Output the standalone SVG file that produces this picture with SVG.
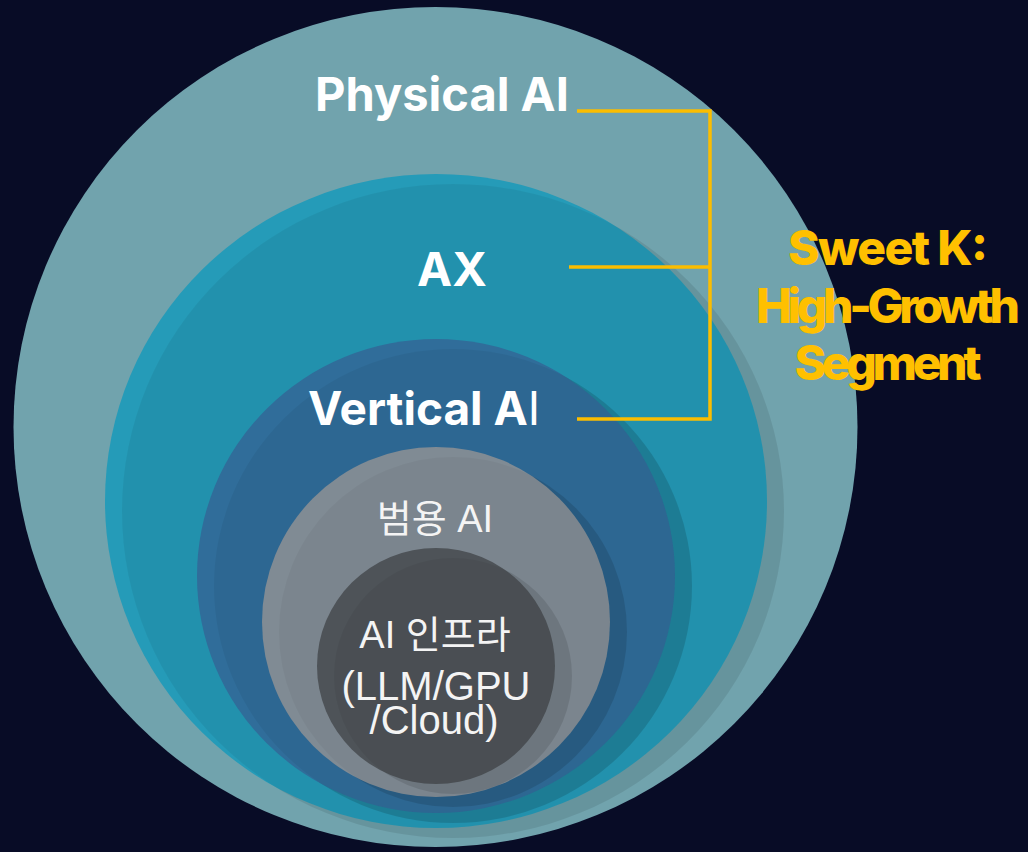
<svg xmlns="http://www.w3.org/2000/svg" width="1028" height="852" viewBox="0 0 1028 852">
  <style>
    .lbl-bold { font-family: Inter, "Noto Sans", "Liberation Sans", sans-serif; font-weight: 700; fill: #ffffff; }
    .lbl-kr { font-family: "Liberation Sans", "Noto Sans CJK KR", sans-serif; font-weight: 400; fill: #f4f4f4; text-anchor: middle; }
    .accent { font-family: Inter, "Noto Sans", "Liberation Sans", sans-serif; font-weight: 800; fill: #ffc000; text-anchor: middle; }
    .bracket { fill: none; stroke: #fbbd00; stroke-width: 3.5; stroke-linecap: butt; stroke-linejoin: miter; }
    .shade { fill: #000000; }
  </style>
  <defs>
    <clipPath id="clip-ax"><ellipse cx="436" cy="501" rx="331" ry="327"/></clipPath>
    <clipPath id="clip-vertical"><ellipse cx="436" cy="576" rx="239" ry="237"/></clipPath>
    <clipPath id="clip-general"><ellipse cx="436" cy="622" rx="174" ry="175"/></clipPath>
    <clipPath id="clip-infra"><ellipse cx="436" cy="666" rx="119" ry="118"/></clipPath>
  </defs>

  <!-- backdrop -->
  <rect x="0" y="0" width="1028" height="852" fill="#080c26"/>

  <!-- outermost ring -->
  <g id="node-physical-ai">
    <ellipse cx="435.5" cy="427" rx="422" ry="420" fill="#71a3ad"/>
    <text class="lbl-bold" x="442" y="111" font-size="47" text-anchor="middle">Physical AI</text>
  </g>

  <g id="node-ax">
    <ellipse class="shade" cx="453" cy="511" rx="331" ry="327" opacity="0.09"/>
    <ellipse cx="436" cy="501" rx="331" ry="327" fill="#259bb8"/>
    <ellipse class="shade" cx="453" cy="511" rx="331" ry="327" opacity="0.06" clip-path="url(#clip-ax)"/>
    <text class="lbl-bold" x="452" y="286" font-size="47" text-anchor="middle">AX</text>
  </g>

  <g id="node-vertical-ai">
    <ellipse class="shade" cx="453" cy="586" rx="239" ry="237" opacity="0.14"/>
    <ellipse cx="436" cy="576" rx="239" ry="237" fill="#306d9a"/>
    <ellipse class="shade" cx="453" cy="586" rx="239" ry="237" opacity="0.05" clip-path="url(#clip-vertical)"/>
    <text class="lbl-bold" x="308" y="425" font-size="46">Vertical A<tspan font-weight="400">I</tspan></text>
  </g>

  <g id="node-general-ai">
    <ellipse class="shade" cx="453" cy="632" rx="174" ry="175" opacity="0.12"/>
    <ellipse cx="436" cy="622" rx="174" ry="175" fill="#808b94"/>
    <ellipse class="shade" cx="453" cy="632" rx="174" ry="175" opacity="0.04" clip-path="url(#clip-general)"/>
    <text class="lbl-kr" x="435" y="532" font-size="38">범용 AI</text>
  </g>

  <g id="node-ai-infra">
    <ellipse class="shade" cx="453" cy="676" rx="119" ry="118" opacity="0.11"/>
    <ellipse cx="436" cy="666" rx="119" ry="118" fill="#4e5358"/>
    <ellipse class="shade" cx="453" cy="676" rx="119" ry="118" opacity="0.05" clip-path="url(#clip-infra)"/>
    <text class="lbl-kr" x="435" y="648" font-size="38">AI 인프라</text>
    <text class="lbl-kr" x="436" y="700" font-size="40">(LLM/GPU</text>
    <text class="lbl-kr" x="434" y="734" font-size="40">/Cloud)</text>
  </g>

  <!-- bracket joining the three outer layers -->
  <g id="connectors">
    <polyline class="bracket" points="577,111 710,111 710,419 577,419"/>
    <line class="bracket" x1="569" y1="267" x2="710" y2="267"/>
  </g>

  <g id="label-sweet-k">
    <text class="accent" x="888" y="265" font-size="48" textLength="200" lengthAdjust="spacing">Sweet K:</text>
    <text class="accent" x="888" y="323" font-size="48" textLength="264" lengthAdjust="spacing">High-Growth</text>
    <text class="accent" x="888" y="380" font-size="48" textLength="187" lengthAdjust="spacing">Segment</text>
  </g>
</svg>
